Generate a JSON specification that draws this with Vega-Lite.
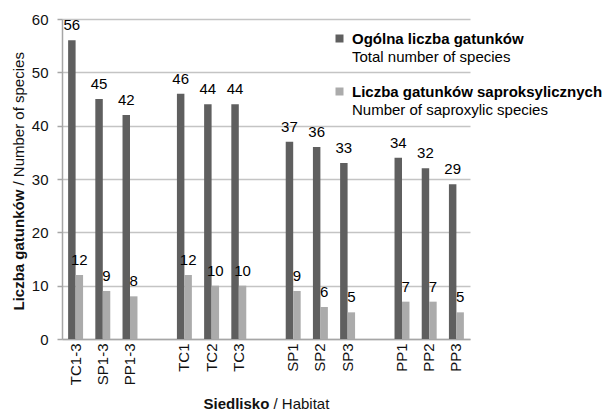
{
  "$schema": "https://vega.github.io/schema/vega-lite/v6.json",
  "width": 408,
  "height": 320,
  "autosize": {"type": "none"},
  "padding": {"left": 62, "top": 19, "right": 136, "bottom": 71},
  "background": "white",
  "config": {
    "view": {"stroke": null},
    "font": "Liberation Sans",
    "axis": {"labelFont": "Liberation Sans", "titleFont": "Liberation Sans", "labelFontSize": 15, "titleFontSize": 15, "labelColor": "#111111", "titleColor": "#111111"},
    "legend": {"labelFont": "Liberation Sans"}
  },
  "data": {
    "values": [
      {"cat": "TC1-3", "series": "Ogólna liczba gatunków", "en": "Total number of species", "value": 56},
      {"cat": "SP1-3", "series": "Ogólna liczba gatunków", "en": "Total number of species", "value": 45},
      {"cat": "PP1-3", "series": "Ogólna liczba gatunków", "en": "Total number of species", "value": 42},
      {"cat": "TC1", "series": "Ogólna liczba gatunków", "en": "Total number of species", "value": 46},
      {"cat": "TC2", "series": "Ogólna liczba gatunków", "en": "Total number of species", "value": 44},
      {"cat": "TC3", "series": "Ogólna liczba gatunków", "en": "Total number of species", "value": 44},
      {"cat": "SP1", "series": "Ogólna liczba gatunków", "en": "Total number of species", "value": 37},
      {"cat": "SP2", "series": "Ogólna liczba gatunków", "en": "Total number of species", "value": 36},
      {"cat": "SP3", "series": "Ogólna liczba gatunków", "en": "Total number of species", "value": 33},
      {"cat": "PP1", "series": "Ogólna liczba gatunków", "en": "Total number of species", "value": 34},
      {"cat": "PP2", "series": "Ogólna liczba gatunków", "en": "Total number of species", "value": 32},
      {"cat": "PP3", "series": "Ogólna liczba gatunków", "en": "Total number of species", "value": 29},
      {"cat": "TC1-3", "series": "Liczba gatunków saproksylicznych", "en": "Number of saproxylic species", "value": 12},
      {"cat": "SP1-3", "series": "Liczba gatunków saproksylicznych", "en": "Number of saproxylic species", "value": 9},
      {"cat": "PP1-3", "series": "Liczba gatunków saproksylicznych", "en": "Number of saproxylic species", "value": 8},
      {"cat": "TC1", "series": "Liczba gatunków saproksylicznych", "en": "Number of saproxylic species", "value": 12},
      {"cat": "TC2", "series": "Liczba gatunków saproksylicznych", "en": "Number of saproxylic species", "value": 10},
      {"cat": "TC3", "series": "Liczba gatunków saproksylicznych", "en": "Number of saproxylic species", "value": 10},
      {"cat": "SP1", "series": "Liczba gatunków saproksylicznych", "en": "Number of saproxylic species", "value": 9},
      {"cat": "SP2", "series": "Liczba gatunków saproksylicznych", "en": "Number of saproxylic species", "value": 6},
      {"cat": "SP3", "series": "Liczba gatunków saproksylicznych", "en": "Number of saproxylic species", "value": 5},
      {"cat": "PP1", "series": "Liczba gatunków saproksylicznych", "en": "Number of saproxylic species", "value": 7},
      {"cat": "PP2", "series": "Liczba gatunków saproksylicznych", "en": "Number of saproxylic species", "value": 7},
      {"cat": "PP3", "series": "Liczba gatunków saproksylicznych", "en": "Number of saproxylic species", "value": 5}
    ]
  },
  "layer": [
    {
      "mark": {"type": "bar"},
      "encoding": {
        "x": {
          "field": "cat", "type": "nominal",
          "scale": {"domain": ["TC1-3", "SP1-3", "PP1-3", "_g1", "TC1", "TC2", "TC3", "_g2", "SP1", "SP2", "SP3", "_g3", "PP1", "PP2", "PP3"], "paddingInner": 0.45, "paddingOuter": 0.225},
          "axis": {
            "orient": "bottom", "title": "Siedlisko", "titleFontWeight": "bold",
            "titleX": 141, "titleY": 69, "titleAlign": "left", "titleBaseline": "alphabetic", "titleAnchor": null,
            "labelAngle": -90, "labelPadding": 4, "ticks": false, "tickSize": 0,
            "domainColor": "#a6a6a6", "domainWidth": 1.5, "grid": false,
            "labelExpr": "indexof(datum.value, '_g') == 0 ? '' : datum.value"
          }
        },
        "xOffset": {"field": "series", "type": "nominal", "scale": {"domain": ["Ogólna liczba gatunków", "Liczba gatunków saproksylicznych"], "paddingInner": 0, "paddingOuter": 0}},
        "y": {
          "field": "value", "type": "quantitative",
          "scale": {"domain": [0, 60], "nice": false},
          "axis": {
            "title": "Liczba gatunków", "titleFontWeight": "bold", "titleAngle": 270,
            "titleX": -44, "titleY": 291, "titleAlign": "left", "titleBaseline": "middle",
            "values": [0, 10, 20, 30, 40, 50, 60], "grid": true, "gridColor": "#c4c4c4", "gridWidth": 1.5,
            "tickSize": 5, "tickColor": "#a6a6a6", "tickWidth": 1.5, "labelPadding": 9,
            "domainColor": "#a6a6a6", "domainWidth": 1.5
          }
        },
        "color": {
          "field": "series", "type": "nominal",
          "scale": {"domain": ["Ogólna liczba gatunków", "Liczba gatunków saproksylicznych"], "range": ["#5f5f5f", "#ababab"]},
          "legend": {
            "orient": "none", "legendX": 270, "legendY": 12, "title": null, "padding": 0,
            "symbolType": "square", "symbolSize": 64, "symbolStrokeWidth": 0,
            "labelFontSize": 15, "labelFontWeight": "bold", "labelColor": "#000000",
            "labelLimit": 400, "labelOffset": 5, "rowPadding": 37
          }
        },
        "strokeDash": {
          "field": "en", "type": "nominal",
          "scale": {"domain": ["Total number of species", "Number of saproxylic species"], "range": [[1, 0], [1, 0]]},
          "legend": {
            "orient": "none", "legendX": 270, "legendY": 30, "title": null, "padding": 0,
            "symbolType": "square", "symbolSize": 64, "symbolOpacity": 0, "symbolStrokeWidth": 0,
            "labelFontSize": 15, "labelFontWeight": "normal", "labelColor": "#000000",
            "labelLimit": 400, "labelOffset": 5, "rowPadding": 37
          }
        }
      }
    },
    {
      "mark": {"type": "text", "baseline": "alphabetic", "dy": -10, "fontSize": 15, "color": "#000000"},
      "encoding": {
        "x": {
          "field": "cat", "type": "nominal",
          "scale": {"domain": ["TC1-3", "SP1-3", "PP1-3", "_g1", "TC1", "TC2", "TC3", "_g2", "SP1", "SP2", "SP3", "_g3", "PP1", "PP2", "PP3"], "paddingInner": 0.45, "paddingOuter": 0.225},
          "axis": {
            "orient": "bottom", "title": "/ Habitat", "titleFontWeight": "normal",
            "titleX": 211, "titleY": 69, "titleAlign": "left", "titleBaseline": "alphabetic", "titleAnchor": null,
            "labels": false, "ticks": false, "domain": false, "grid": false
          }
        },
        "xOffset": {"field": "series", "type": "nominal", "scale": {"domain": ["Ogólna liczba gatunków", "Liczba gatunków saproksylicznych"], "paddingInner": 0, "paddingOuter": 0}},
        "y": {
          "field": "value", "type": "quantitative",
          "scale": {"domain": [0, 60], "nice": false},
          "axis": {
            "orient": "left", "title": "/ Number of species", "titleFontWeight": "normal", "titleAngle": 270,
            "titleX": -44, "titleY": 166, "titleAlign": "left", "titleBaseline": "middle",
            "labels": false, "ticks": false, "domain": false, "grid": false
          }
        },
        "text": {"field": "value", "type": "quantitative"}
      }
    }
  ],
  "resolve": {"axis": {"x": "independent", "y": "independent"}}
}
